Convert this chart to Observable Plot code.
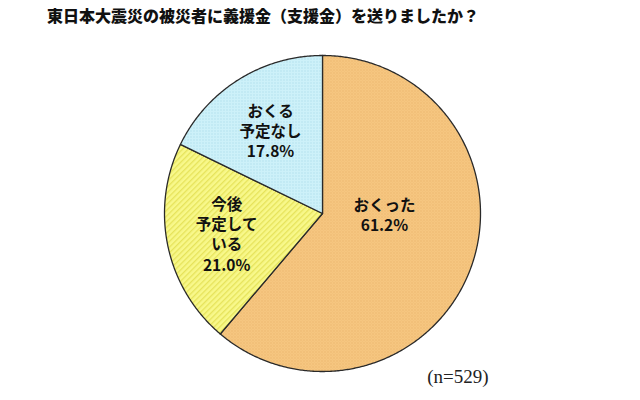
<!DOCTYPE html>
<html>
<head>
<meta charset="utf-8">
<script src="https://cdn.jsdelivr.net/npm/d3@7"></script>
<script src="https://cdn.jsdelivr.net/npm/@observablehq/plot@0.6"></script>
<style>
  html, body { margin: 0; padding: 0; background: #fff; }
  #title { height: 30px; line-height: 30px; font-family: "Noto Sans CJK JP", sans-serif; font-weight: 900; font-size: 16px; padding-left: 47px; color: #111; white-space: nowrap; }
</style>
</head>
<body>
<div id="title">東日本大震災の被災者に義援金（支援金）を送りましたか？</div>
<div id="chart"></div>
<script>
const categories = ["おくった", "今後予定している", "おくる予定なし"];
const labels = ["おくった", "今後\n予定して\nいる", "おくる\n予定なし"];
const values = [61.2, 21.0, 17.8];
const caption = "(n=529)";

const W = 640, H = 370, R = 158, CX = 322, CY = 183;

const slices = d3.pie().sort(null).value(d => d.value)(
  categories.map((c, i) => ({ key: c, label: labels[i], value: values[i], i }))
);

const pts = [];
for (const s of slices) {
  const k = s.data.key, pat = `url(#pat${s.data.i})`;
  pts.push({ key: k, pat, x: 0, y: 0 });
  const n = Math.ceil((s.endAngle - s.startAngle) / (Math.PI / 360));
  for (let j = 0; j <= n; j++) {
    const a = s.startAngle + (s.endAngle - s.startAngle) * j / n;
    pts.push({ key: k, pat, x: Math.sin(a), y: Math.cos(a) });
  }
  pts.push({ key: k, pat, x: 0, y: 0 });
}

const lab = slices.map(s => {
  const a = (s.startAngle + s.endAngle) / 2;
  return { text: s.data.label + "\n" + s.data.value.toFixed(1) + "%", x: 0.62 * Math.sin(a), y: 0.62 * Math.cos(a), i: s.data.i };
});

const textStyle = { fontFamily: "'Noto Sans CJK JP', sans-serif", fontWeight: "bold", fontSize: 15.5, lineHeight: 1.32, fill: "#111", letterSpacing: "1px" };

const svg = Plot.plot({
  width: W, height: H,
  marginTop: 0, marginRight: 0, marginBottom: 0, marginLeft: 0,
  x: { axis: null, domain: [-CX / R, (W - CX) / R] },
  y: { axis: null, domain: [-(H - CY) / R, CY / R] },
  color: { type: "identity" },
  marks: [
    Plot.line(pts, { x: "x", y: "y", z: "key", fill: "pat", stroke: "#2a2a2a", strokeWidth: 1.3, strokeLinejoin: "round" }),
    Plot.text(lab.filter(d => d.i === 0), { x: "x", y: "y", text: "text", dx: -30, dy: -33, ...textStyle }),
    Plot.text(lab.filter(d => d.i !== 0), { x: "x", y: "y", text: "text", ...textStyle }),
    Plot.text([caption], { text: d => d, frameAnchor: "bottom-right", lineAnchor: "middle", dx: -152, dy: -24, fontFamily: "'Liberation Serif', serif", fontSize: 19, fill: "#222" })
  ]
});

const defs = d3.create("svg:defs");
// orange: fine checker dots
const p0 = defs.append("pattern").attr("id", "pat0").attr("patternUnits", "userSpaceOnUse").attr("width", 3).attr("height", 3);
p0.append("rect").attr("width", 3).attr("height", 3).attr("fill", "#f9ca84");
p0.append("rect").attr("x", 0).attr("y", 0).attr("width", 1).attr("height", 1).attr("fill", "#e3aa60");
p0.append("rect").attr("x", 1.5).attr("y", 1.5).attr("width", 1).attr("height", 1).attr("fill", "#e3aa60");
// yellow: diagonal stripes
const p1 = defs.append("pattern").attr("id", "pat1").attr("patternUnits", "userSpaceOnUse").attr("width", 4).attr("height", 4).attr("patternTransform", "rotate(45)");
p1.append("rect").attr("width", 4).attr("height", 4).attr("fill", "#f8f88a");
p1.append("rect").attr("width", 1.3).attr("height", 4).attr("fill", "#e6e35a");
// blue: dots
const p2 = defs.append("pattern").attr("id", "pat2").attr("patternUnits", "userSpaceOnUse").attr("width", 3).attr("height", 3);
p2.append("rect").attr("width", 3).attr("height", 3).attr("fill", "#cdf1f9");
p2.append("rect").attr("x", 1).attr("y", 1).attr("width", 1).attr("height", 1).attr("fill", "#9fd6e6");
svg.prepend(defs.node());

document.getElementById("chart").appendChild(svg);
</script>
</body>
</html>
